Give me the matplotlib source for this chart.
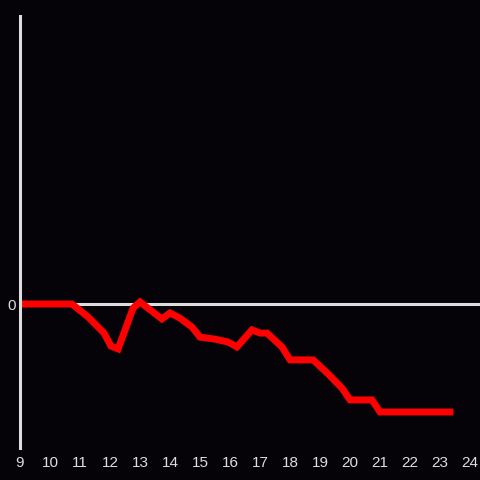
import matplotlib
matplotlib.use("Agg")
import matplotlib.pyplot as plt

# hour of day vs running value
hours = [9.0, 10.73, 11.27, 11.8, 12.03, 12.27, 12.77, 13.0, 13.73, 14.0,
         14.33, 14.73, 15.0, 15.5, 15.93, 16.23, 16.73, 17.0, 17.23, 17.73,
         18.0, 18.77, 19.27, 19.73, 20.0, 20.73, 21.0, 23.33]
values = [0, 0, -4.5, -10.1, -14.6, -15.6, -1.4, 0.7, -5.2, -3.1,
          -4.9, -8.0, -11.5, -12.2, -13.2, -14.9, -9.0, -10.1, -10.1, -14.9,
          -19.4, -19.4, -24.3, -29.2, -33.3, -33.3, -37.5, -37.5]
xticks = list(range(9, 25))

bg = "#050307"
fg = "#dddddd"

plt.rcParams["font.family"] = ["Liberation Sans", "DejaVu Sans"]

fig = plt.figure(figsize=(4.8, 4.8), dpi=100, facecolor=bg)
ax = fig.add_axes([20 / 480, 32 / 480, 460 / 480, 432 / 480], facecolor=bg)

ax.axhline(0, color=fg, lw=2.2, zorder=1)
ax.plot(hours, values, color="#ff0000", lw=5, solid_joinstyle="miter", zorder=2)

ax.set_xlim(9, 24.33)
ax.set_ylim(-50, 100)
ax.set_xticks(xticks)
ax.set_yticks([0])
ax.tick_params(colors=fg, length=0, labelsize=11, pad=6)
ax.tick_params(axis="y", pad=3)
for side in ["top", "right", "bottom"]:
    ax.spines[side].set_visible(False)
ax.spines["left"].set_color(fg)
ax.spines["left"].set_linewidth(2.2)

fig.savefig("out.png", dpi=100, facecolor=bg)
